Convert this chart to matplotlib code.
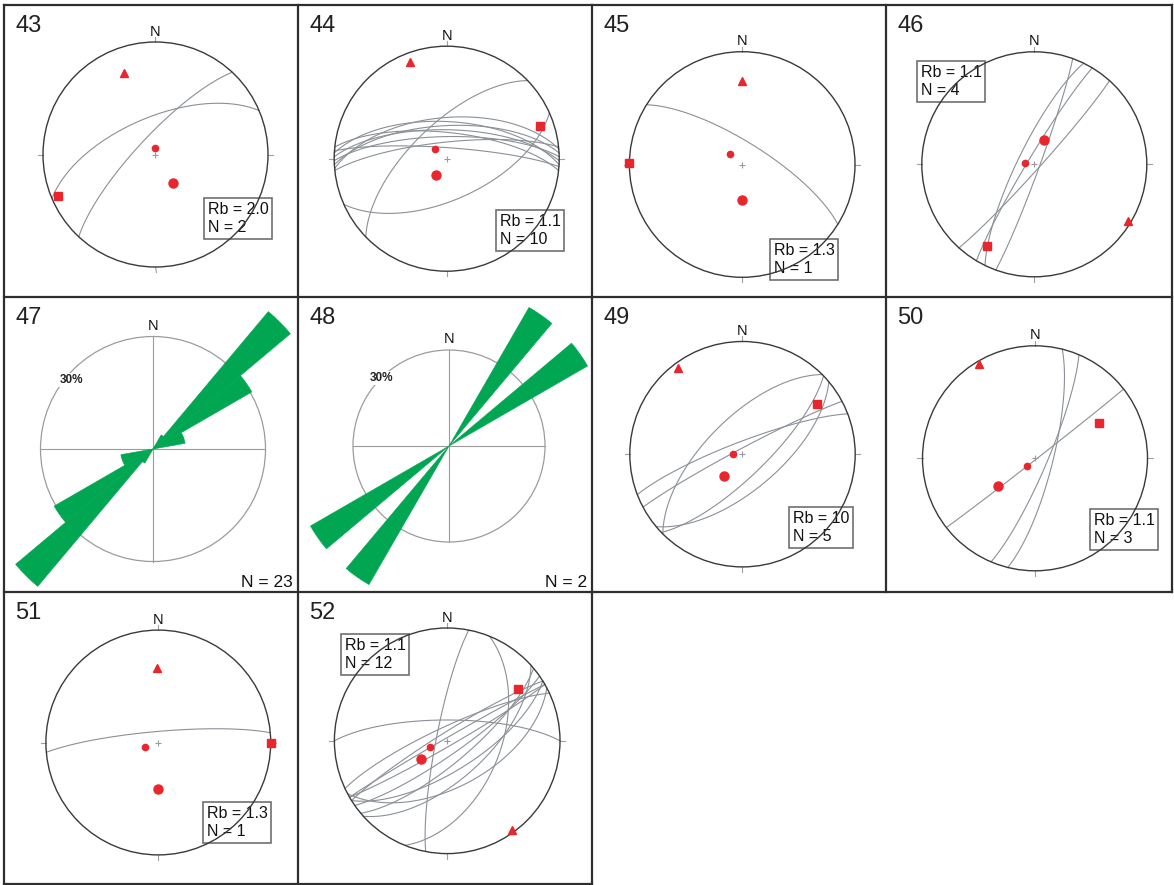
import numpy as np
import matplotlib
matplotlib.use("Agg")
import matplotlib.pyplot as plt
from matplotlib import font_manager
from matplotlib.patches import Circle, Wedge

W, H = 1174, 885

# ---------------- fault planes: dip direction / dip (degrees) ----------------
GC43_DIPDIR = [313, 337]
GC43_DIP = [77, 63]
GC44_DIPDIR = [316, 156, 355, 3, 357, 1, 6, 359, 354, 4]
GC44_DIP = [65, 60, 60, 63, 66, 69, 71, 74, 78, 82]
GC45_DIPDIR = [32]
GC45_DIP = [74]
GC46_DIPDIR = [110, 301, 132, 296]
GC46_DIP = [86, 85, 86, 78]
GC49_DIPDIR = [339, 332, 315, 136, 140]
GC49_DIP = [81, 86, 64, 74, 64]
GC50_DIPDIR = [142, 104, 113]
GC50_DIP = [89, 77, 81]
GC51_DIPDIR = [355]
GC51_DIP = [82]
GC52_DIPDIR = [281, 112, 0, 330, 328, 150, 335, 145, 140, 148, 138, 152]
GC52_DIP = [82, 51, 75, 88, 84, 86, 80, 80, 74, 68, 62, 56]

# ------------- axes: trend / plunge, order = [triangle, dot, circle, square] -------------
AX43_TREND = [339, 0, 148, 247]
AX43_PLUNGE = [23, 85, 66, 7]
AX44_TREND = [339, 309, 215, 71]
AX44_PLUNGE = [9, 79, 76, 13]
AX45_TREND = [0, 311, 180, 271]
AX45_PLUNGE = [27, 78, 64, 0]
AX46_TREND = [121, 280, 21, 210]
AX46_PLUNGE = [3, 83, 71, 17]
AX49_TREND = [323, 269, 220, 56]
AX49_PLUNGE = [5, 83, 69, 21]
AX50_TREND = [329, 229, 233, 61]
AX50_PLUNGE = [3, 82, 56, 35]
AX51_TREND = [359, 249, 180, 90]
AX51_PLUNGE = [34, 80, 56, 0]
AX52_TREND = [144, 251, 235, 54]
AX52_PLUNGE = [3, 77, 67, 23]

# stress ratio labels
STEREO_IDS = ["43", "44", "45", "46", "49", "50", "51", "52"]
RB_VALUES = ["2.0", "1.1", "1.3", "1.1", "10", "1.1", "1.3", "1.1"]

# ---------------- rose diagrams (10 degree bins, axial) ----------------
ROSE47_BIN_START = [30, 40, 50, 60, 70]
ROSE47_COUNT = [1, 11, 7, 2, 2]
ROSE48_BIN_START = [30, 50]
ROSE48_COUNT = [1, 1]
ROSE_BIN_WIDTH = 10
ROSE_RING_PCT = 30

# ---------------- layout (pixels) ----------------
PANEL_BOX = {
    "43": (4, 5, 298, 297), "44": (298, 5, 592, 297),
    "45": (592, 5, 886, 297), "46": (886, 5, 1172, 297),
    "47": (4, 297, 298, 592), "48": (298, 297, 592, 592),
    "49": (592, 297, 886, 592), "50": (886, 297, 1172, 592),
    "51": (4, 592, 298, 884), "52": (298, 592, 592, 884),
}
NET_GEOM = {
    "43": (155.5, 154.5, 112.5), "44": (446.7, 158.7, 112.5),
    "45": (742.2, 164.5, 112.8), "46": (1034.3, 164.3, 112.5),
    "47": (153.0, 449.0, 112.5), "48": (449.0, 446.0, 96.0),
    "49": (742.5, 454.2, 112.7), "50": (1035.0, 458.3, 112.5),
    "51": (158.3, 742.5, 112.4), "52": (447.2, 740.8, 112.8),
}
BOX_ANCHOR = {
    "43": (204, 199), "44": (496, 211), "45": (770, 240), "46": (917, 62),
    "49": (789, 508), "50": (1090, 510), "51": (203, 803), "52": (341, 635),
}
# position of the ring label (azimuth, radius as fraction of the ring)
RING_LABEL_POS = {"47": (310, 0.95), "48": (315, 1.0)}

RED = "#e8262d"
GREEN = "#00a651"
GC_COLOR = "#8b9097"
NET_COLOR = "#3a3a3a"

available = {f.name for f in font_manager.fontManager.ttflist}
SANS = "Liberation Sans" if "Liberation Sans" in available else "DejaVu Sans"
plt.rcParams["font.family"] = [SANS, "DejaVu Sans"]


def project(trend, plunge):
    """Lower-hemisphere equal-area projection of lines."""
    t = np.radians(np.asarray(trend, float))
    p = np.radians(np.asarray(plunge, float))
    r = np.sqrt(2.0) * np.sin((np.pi / 2 - p) / 2)
    return r * np.sin(t), r * np.cos(t)


def great_circle(dipdir, dip, n=241):
    s = np.radians(dipdir - 90.0)
    dd = np.radians(dipdir)
    d = np.radians(dip)
    t = np.linspace(0, np.pi, n)
    sv = np.array([np.sin(s), np.cos(s), 0.0])
    dv = np.array([np.sin(dd) * np.cos(d), np.cos(dd) * np.cos(d), np.sin(d)])
    v = np.outer(np.cos(t), sv) + np.outer(np.sin(t), dv)
    e, nn, dn = v.T
    plunge = np.degrees(np.arcsin(np.clip(dn, -1, 1)))
    trend = np.degrees(np.arctan2(e, nn))
    return project(trend, plunge)


fig = plt.figure(figsize=(W / 100, H / 100), dpi=100)
bg = fig.add_axes([0, 0, 1, 1])
bg.set_xlim(0, W)
bg.set_ylim(H, 0)
bg.axis("off")

# panel frames
FRAME_KW = dict(color="#2e2e2e", lw=1.6, solid_capstyle="projecting")
for x in (4, 298, 592):
    bg.plot([x, x], [5, 884], **FRAME_KW)
for x in (886, 1172):
    bg.plot([x, x], [5, 592], **FRAME_KW)
for y in (5, 297, 592):
    bg.plot([4, 1172], [y, y], **FRAME_KW)
bg.plot([4, 592], [884, 884], **FRAME_KW)


def panel_axes(pid):
    x0, y0, x1, y1 = PANEL_BOX[pid]
    cx, cy, R = NET_GEOM[pid]
    ax = fig.add_axes([x0 / W, 1 - y1 / H, (x1 - x0) / W, (y1 - y0) / H])
    ax.set_xlim((x0 - cx) / R, (x1 - cx) / R)
    ax.set_ylim((cy - y1) / R, (cy - y0) / R)
    ax.set_aspect("auto")
    ax.axis("off")
    bg.text(x0 + 11, y0 + 10, pid, fontsize=17, ha="left", va="top",
            color="#222222")
    return ax, R


def draw_stereonet(pid, dipdirs, dips, trends, plunges, rb):
    ax, R = panel_axes(pid)
    ax.add_patch(Circle((0, 0), 1.0, fill=False, ec=NET_COLOR, lw=1.0, zorder=3))
    for a in (0, 90, 180, 270):
        x0, y0 = project(a, 0)
        ax.plot([x0, 1.045 * x0], [y0, 1.045 * y0], color="#a0a0a0", lw=0.8)
    ax.text(0, 1 + 10.5 / R, "N", ha="center", va="center", fontsize=10.5,
            color="#111111")
    for ddir, dp in zip(dipdirs, dips):
        gx, gy = great_circle(ddir, dp)
        ax.plot(gx, gy, color=GC_COLOR, lw=0.8, zorder=2)
    ax.plot([0], [0], marker="+", ms=5, color="#9a9a9a", mew=0.8, zorder=4)
    px, py = project(trends, plunges)
    styles = [("^", 5.5), ("o", 4.5), ("o", 6.5), ("s", 6.2)]
    for (m, ms), x, y in zip(styles, px, py):
        ax.plot([x], [y], marker=m, ms=ms, color=RED, mec=RED, ls="none",
                zorder=5, clip_on=False)
    bx, by = BOX_ANCHOR[pid]
    bg.text(bx + 4, by + 3, f"Rb = {rb}\nN = {len(dips)}", ha="left", va="top",
            fontsize=11.5, linespacing=1.25, color="#111111", zorder=6,
            bbox=dict(boxstyle="square,pad=0.22", fc="white", ec="#707070",
                      lw=1.2))


def draw_rose(pid, starts, counts):
    ax, R = panel_axes(pid)
    ax.add_patch(Circle((0, 0), 1.0, fill=False, ec="#9c9c9c", lw=0.9, zorder=1))
    ax.plot([-1, 1], [0, 0], color="#9c9c9c", lw=0.8, zorder=1)
    ax.plot([0, 0], [-1, 1], color="#9c9c9c", lw=0.8, zorder=1)
    total = sum(counts)
    for a, c in zip(starts, counts):
        r = 100.0 * c / total / ROSE_RING_PCT
        for off in (0, 180):
            az = a + off
            ax.add_patch(Wedge((0, 0), r, 90 - (az + ROSE_BIN_WIDTH), 90 - az,
                               fc=GREEN, ec=GREEN, lw=0.4, zorder=3))
    ax.text(0, 1 + 11 / R, "N", ha="center", va="center", fontsize=10.5,
            color="#111111")
    laz, lr = RING_LABEL_POS[pid]
    lx, ly = project(laz, 0)
    ax.text(lr * lx, lr * ly, f"{ROSE_RING_PCT}%", ha="center", va="center",
            fontsize=8.5, fontweight="bold", color="#222222", zorder=2,
            bbox=dict(boxstyle="square,pad=0.1", fc="white", ec="none"))
    x0, y0, x1, y1 = PANEL_BOX[pid]
    bg.text(x1 - 5, y1 - 5, f"N = {total}", ha="right", va="baseline",
            fontsize=12.5, color="#111111")


GC_DIPDIR = [GC43_DIPDIR, GC44_DIPDIR, GC45_DIPDIR, GC46_DIPDIR,
             GC49_DIPDIR, GC50_DIPDIR, GC51_DIPDIR, GC52_DIPDIR]
GC_DIP = [GC43_DIP, GC44_DIP, GC45_DIP, GC46_DIP,
          GC49_DIP, GC50_DIP, GC51_DIP, GC52_DIP]
AX_TREND = [AX43_TREND, AX44_TREND, AX45_TREND, AX46_TREND,
            AX49_TREND, AX50_TREND, AX51_TREND, AX52_TREND]
AX_PLUNGE = [AX43_PLUNGE, AX44_PLUNGE, AX45_PLUNGE, AX46_PLUNGE,
             AX49_PLUNGE, AX50_PLUNGE, AX51_PLUNGE, AX52_PLUNGE]

for pid, dd, dp, tr, pl, rb in zip(STEREO_IDS, GC_DIPDIR, GC_DIP,
                                   AX_TREND, AX_PLUNGE, RB_VALUES):
    draw_stereonet(pid, dd, dp, tr, pl, rb)

draw_rose("47", ROSE47_BIN_START, ROSE47_COUNT)
draw_rose("48", ROSE48_BIN_START, ROSE48_COUNT)

fig.savefig("out.png", dpi=100, facecolor="white")
